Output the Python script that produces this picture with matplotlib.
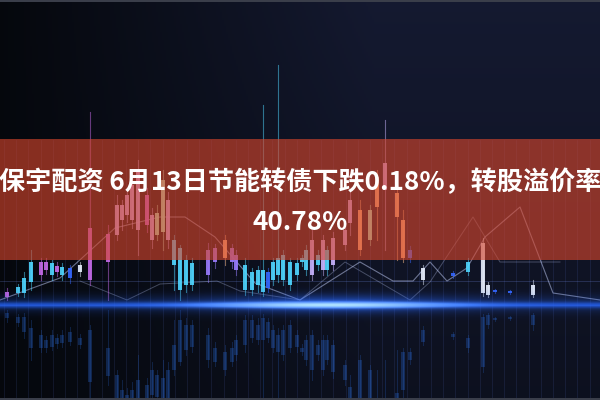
import matplotlib
matplotlib.use("Agg")
import matplotlib.pyplot as plt
import numpy as np

plt.rcParams['font.family'] = ['Noto Sans CJK SC', 'DejaVu Sans']

# title text
line1 = "保宇配资 6月13日节能转债下跌0.18%，转股溢价率"
line2 = "40.78%"

# candles (x position, body top, body bottom, wick top, wick bottom) in picture rows
cx = [7, 18, 24, 31, 41, 46, 52, 57, 62, 70, 80, 90, 108, 117, 122, 127, 132, 138,
      147, 152, 157, 163, 168, 174, 180, 186, 192, 208, 215, 225, 232, 236, 245, 252,
      258, 263, 268, 273, 278, 283, 290, 297, 302, 306, 312, 318, 323, 327, 333, 345,
      350, 360, 370, 377, 385, 397, 403, 410, 423, 453, 468, 483, 488, 495, 510, 533,
      552, 575]
body_top = [292, 287, 278, 262, 262, 262, 263, 266, 267, 268, 265, 228, 234, 205, 205, 195,
            185, 170, 195, 215, 213, 180, 200, 240, 248, 260, 263, 250, 248, 240, 248, 255,
            265, 272, 270, 270, 272, 262, 258, 255, 262, 263, 258, 250, 240, 255, 240, 250,
            238, 230, 200, 210, 210, 177, 163, 193, 220, 250, 268, 273, 262, 243, 285, 290,
            291, 285, 283, 292]
body_bot = [297, 293, 293, 282, 275, 270, 275, 272, 275, 278, 272, 280, 262, 235, 220, 215,
            220, 230, 225, 240, 235, 232, 240, 265, 290, 285, 285, 275, 262, 258, 262, 270,
            290, 290, 285, 292, 288, 280, 275, 280, 285, 275, 262, 270, 275, 265, 270, 270,
            265, 245, 223, 250, 240, 207, 190, 217, 258, 258, 280, 276, 272, 293, 295, 292,
            293, 295, 295, 293]
wick_top = [288, 284, 272, 250, 258, 258, 260, 262, 263, 265, 262, 112, 225, 195, 200, 188,
            178, 160, 188, 208, 205, 170, 192, 235, 245, 255, 258, 243, 244, 235, 244, 250,
            258, 268, 266, 105, 268, 258, 65, 250, 258, 258, 255, 245, 230, 250, 235, 246,
            232, 225, 190, 200, 205, 170, 120, 185, 210, 246, 265, 271, 258, 238, 282, 289,
            290, 280, 280, 291]
wick_bot = [300, 296, 297, 290, 280, 274, 280, 276, 280, 283, 276, 285, 300, 240, 230, 222,
            228, 255, 232, 248, 240, 250, 248, 290, 300, 292, 290, 282, 268, 265, 268, 275,
            295, 295, 292, 296, 292, 285, 282, 285, 290, 280, 266, 275, 280, 270, 275, 275,
            270, 250, 235, 255, 245, 240, 250, 260, 262, 262, 284, 278, 275, 296, 297, 293,
            294, 297, 297, 294]
tone = "pcccppcpcbwpplllllplgglcccceeoeeccccbccccccclclclllogoloobwbcwwbbw"

# thin moving-average lines
ma1_x = [0, 60, 115, 160, 185, 215, 255, 300, 360, 393, 413, 430, 447, 467, 485, 520, 553, 600]
ma1_y = [300, 278, 228, 217, 217, 237, 283, 300, 262, 281, 281, 262, 281, 268, 237, 207, 293, 300]
ma2_x = [80, 127, 160, 217, 240, 300, 345, 410, 430, 473, 500, 560]
ma2_y = [281, 300, 284, 281, 291, 300, 262, 300, 282, 217, 262, 262]

colors = {"p": "#c46ae8", "c": "#4fd6ff", "b": "#3567ff", "w": "#e8f0ff",
          "l": "#c8b4ff", "g": "#a8f0c8", "e": "#9a7cff", "o": "#ffc08a"}

fig = plt.figure(figsize=(6, 4), dpi=100)
ax = fig.add_axes([0, 0, 1, 1])
ax.set_xlim(0, 600)
ax.set_ylim(400, 0)
ax.axis("off")

# background: black on the left fading to dark navy
gx = np.linspace(0, 1, 300)
gy = np.linspace(0, 1, 200)[:, None]
bg = np.zeros((200, 300, 3))
fade = np.clip(gx * 1.6, 0, 1)[None, :] * (1 - 0.5 * gy)
bg[..., 0] = 0.02 + 0.06 * fade
bg[..., 1] = 0.03 + 0.07 * fade
bg[..., 2] = 0.05 + 0.14 * fade
ax.imshow(bg, extent=(0, 600, 400, 0), aspect="auto", zorder=0)

# grid
for gxv in np.arange(4, 600, 12.2):
    ax.plot([gxv, gxv], [140, 400], color="#6f8cff", lw=0.6, alpha=0.13, zorder=1)
for gyv in [281, 305]:
    ax.axhline(gyv, color="#7f9cff", lw=0.6, alpha=0.25, zorder=1)

# moving average lines
ax.plot(ma1_x, ma1_y, color="#c8d4ff", lw=0.8, alpha=0.5, zorder=2)
ax.plot(ma2_x, ma2_y, color="#c8d4ff", lw=0.7, alpha=0.3, zorder=2)

# candles and their reflection
for x, bt, bb, wt, wb, t in zip(cx, body_top, body_bot, wick_top, wick_bot, tone):
    c = colors[t]
    ax.plot([x, x], [wt, wb], color=c, lw=0.8, alpha=0.5, zorder=3)
    ax.bar(x, bb - bt, bottom=bt, width=4.2, color=c, alpha=0.9, zorder=3)
    ax.bar(x, bb - bt, bottom=610 - bb, width=4.2, color="#2a6ad8", alpha=0.3, zorder=2)
    ax.plot([x, x], [610 - wb, min(610 - wt, 400)], color="#2a6ad8", lw=0.7, alpha=0.25, zorder=2)

# blue glow streak
sx = np.linspace(0, 600, 300)
sy = np.linspace(280, 330, 100)[:, None]
core = np.exp(-((sx - 330) / 110) ** 2)[None, :]
prof = np.exp(-((sy - 305) / 3.0) ** 2)
halo = np.exp(-((sy - 304) / 9) ** 2)
glow = np.zeros((100, 300, 4))
glow[..., 0] = 0.15 + 0.55 * prof * core
glow[..., 1] = 0.40 + 0.50 * prof * core
glow[..., 2] = 1.0
glow[..., 3] = np.clip(prof * (0.55 + 0.6 * core) + halo * (0.25 + 0.45 * core), 0, 1)
ax.imshow(glow, extent=(0, 600, 330, 280), aspect="auto", zorder=4)

# red band
ax.axhspan(139, 260, color="#d8462c", alpha=0.62, lw=0, zorder=5)

# frame lines at top and bottom
ax.axhspan(0, 2, color="#3a3e4a", lw=0, zorder=6)
ax.axhspan(398, 400, color="#3a3e4a", lw=0, zorder=6)

ax.text(300, 183, line1, color="white", fontsize=18.8, fontweight="bold",
        ha="center", va="center", zorder=7)
ax.text(300, 222, line2, color="white", fontsize=18.8, fontweight="bold",
        ha="center", va="center", zorder=7)

fig.savefig("out.png", dpi=100)
